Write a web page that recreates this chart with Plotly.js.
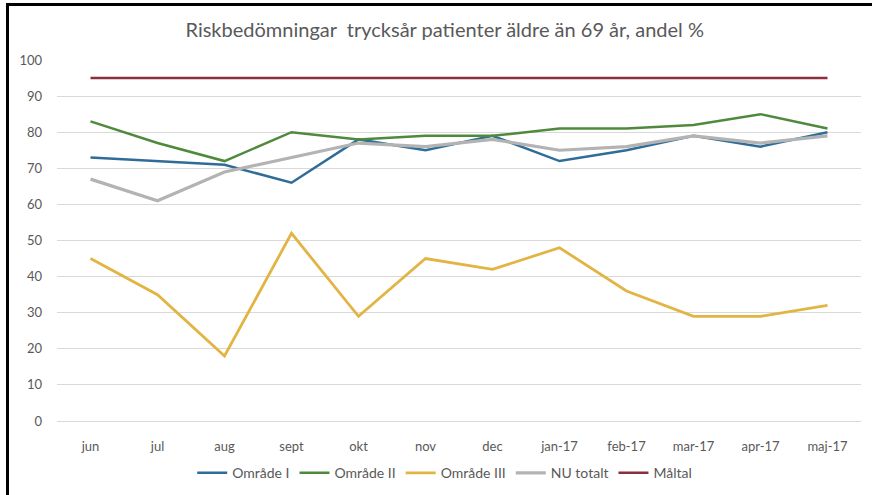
<!DOCTYPE html>
<html>
<head>
<meta charset="utf-8">
<script src="https://cdn.plot.ly/plotly-3.0.1.min.js"></script>
<style>
  html, body { margin: 0; padding: 0; background: #fff; }
  #wrap { position: relative; width: 872px; height: 495px; overflow: hidden; }
  #chart { position: absolute; left: 0; top: 0; width: 872px; height: 495px; }
  #frame { position: absolute; left: 6px; top: 3px; width: 880px; height: 500px;
           border-left: 3px solid #000; border-top: 3px solid #000; pointer-events: none; }
</style>
</head>
<body>
<div id="wrap">
  <div id="chart"></div>
  <div id="frame"></div>
</div>
<script>
const months = ["jun", "jul", "aug", "sept", "okt", "nov", "dec", "jan-17", "feb-17", "mar-17", "apr-17", "maj-17"];
const omradeI   = [73, 72, 71, 66, 78, 75, 79, 72, 75, 79, 76, 80];
const omradeII  = [83, 77, 72, 80, 78, 79, 79, 81, 81, 82, 85, 81];
const omradeIII = [45, 35, 18, 52, 29, 45, 42, 48, 36, 29, 29, 32];
const nuTotalt  = [67, 61, 69, 73, 77, 76, 78, 75, 76, 79, 77, 79];
const maltal    = [95, 95, 95, 95, 95, 95, 95, 95, 95, 95, 95, 95];
const yTicks    = [0, 10, 20, 30, 40, 50, 60, 70, 80, 90, 100];

const font = "Lato, 'Liberation Sans', sans-serif";
function tr(name, y, color, width) {
  return { type: "scatter", mode: "lines", name: name, x: months, y: y,
           line: { color: color, width: width } };
}
const data = [
  tr("Område I", omradeI, "#2f6d98", 2.5),
  tr("Område II", omradeII, "#4f8a3c", 2.5),
  tr("Område III", omradeIII, "#e2b443", 2.8),
  tr("NU totalt", nuTotalt, "#b3b3b3", 3.2),
  tr("Måltal", maltal, "#8c2f3c", 2.5)
];
const layout = {
  width: 872, height: 495,
  margin: { l: 57, r: 11, t: 60, b: 74 },
  paper_bgcolor: "#fff", plot_bgcolor: "#fff",
  font: { family: font, color: "#595959", size: 13 },
  title: { text: "Riskbedömningar  trycksår patienter äldre än 69 år, andel %",
           font: { family: font, size: 20, color: "#595959" },
           x: 0.51, xanchor: "center", y: 0.94, yanchor: "middle" },
  xaxis: { type: "category", showgrid: false, zeroline: false,
           showline: true, linecolor: "#d9d9d9", linewidth: 1,
           ticks: "", ticklabelstandoff: 13, tickfont: { size: 13, color: "#595959" },
           range: [-0.5, 11.5], fixedrange: true, automargin: false },
  yaxis: { range: [0, 100], tickvals: yTicks, showgrid: true, gridcolor: "#d9d9d9", gridwidth: 1,
           zeroline: false, showline: false, ticks: "", ticklabelstandoff: 14,
           tickfont: { size: 13, color: "#595959" }, fixedrange: true, automargin: false },
  showlegend: true,
  legend: { orientation: "h", x: 0.51, xanchor: "center", xref: "container",
            y: 0.044, yanchor: "middle", yref: "container",
            font: { size: 14, color: "#595959" }, itemwidth: 30, tracegroupgap: 0 },
};
Plotly.newPlot("chart", data, layout, { displayModeBar: false, staticPlot: true });
</script>
</body>
</html>
